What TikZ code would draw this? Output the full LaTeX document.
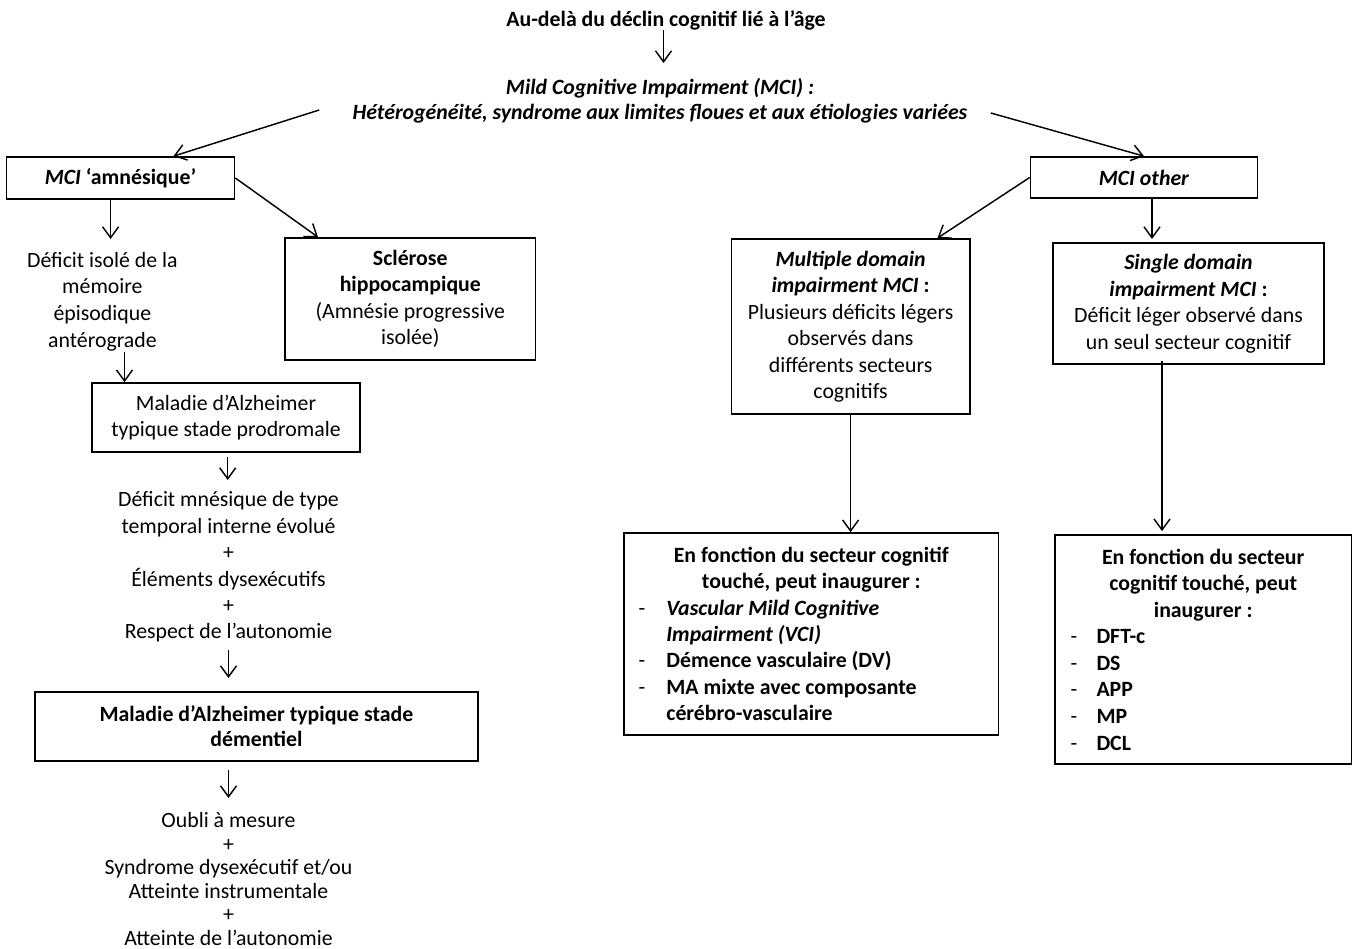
\documentclass[tikz,border=0pt]{standalone}
\usepackage{fontspec}
\setmainfont{Carlito}
\usetikzlibrary{arrows.meta,calc}
\newcommand{\vashead}[1]{\makebox[187.3pt][c]{#1}}
\newcommand{\vasitem}[1]{\makebox[187.3pt][l]{\hspace*{7.25pt}\makebox[13.95pt][l]{\mdseries -}#1}}
\newcommand{\vascont}[1]{\makebox[187.3pt][l]{\hspace*{21.2pt}#1}}
\newcommand{\sdlhead}[1]{\makebox[148.25pt][c]{#1}}
\newcommand{\sdlitem}[1]{\makebox[148.25pt][l]{\hspace*{7.75pt}\makebox[13pt][l]{\mdseries -}#1}}
\begin{document}
\begin{tikzpicture}[x=0.5pt,y=-0.5pt,
  txt/.style={font=\fontsize{10.9}{13.25}\selectfont, align=center, inner sep=0pt},
  box/.style={txt, draw, line width=0.85pt},
  arr/.style={line width=0.72pt, -{Straight Barb[length=5.5pt,width=8pt]}}]
\useasboundingbox (0,0) rectangle (1355,948);
\fill[white] (0,0) rectangle (1355,948);

% texts
\node[txt, font=\fontsize{10.9}{13.25}\selectfont\bfseries] (title) at (666,20) {Au-delà du déclin cognitif lié à l’âge};
\node[txt, font=\fontsize{10.9}{12.5}\selectfont\bfseries\itshape] (mci) at (660,100.5)
  {Mild Cognitive Impairment (MCI) :\\Hétérogénéité, syndrome aux limites floues et aux étiologies variées};

% boxes
\node[box, minimum width=114pt, minimum height=21pt] (amn) at (120.5,178) {\textbf{\textit{MCI} ‘amnésique’}};
\node[box, minimum width=113.5pt, minimum height=20.5pt] (other) at (1144,177.5) {\textbf{\textit{MCI other}}};
\node[box, minimum width=125.3pt, minimum height=61pt] (scl) at (410.3,299)
  {\textbf{Sclérose}\\\textbf{hippocampique}\\(Amnésie progressive\\isolée)};
\node[box, minimum width=119.25pt, minimum height=87.5pt] (mult) at (850.6,326.5)
  {\textbf{\textit{Multiple domain}}\\\textbf{\textit{impairment MCI} :}\\Plusieurs déficits légers\\observés dans\\différents secteurs\\cognitifs};
\node[box, minimum width=135.5pt, minimum height=60.5pt] (single) at (1188.5,303.5)
  {\textbf{\textit{Single domain}}\\\textbf{\textit{impairment MCI} :}\\Déficit léger observé dans\\un seul secteur cognitif};

\node[txt, font=\fontsize{10.9}{13.35}\selectfont] (def1) at (102.4,301.5)
  {Déficit isolé de la\\mémoire\\épisodique\\antérograde};
\node[box, minimum width=134pt, minimum height=34.5pt] (prod) at (226,417.5)
  {Maladie d’Alzheimer\\typique stade prodromale};
\node[txt, font=\fontsize{10.9}{13.2}\selectfont] (def2) at (228.5,567)
  {Déficit mnésique de type\\temporal interne évolué\\+\\Éléments dysexécutifs\\+\\Respect de l’autonomie};
\node[box, minimum width=221.5pt, minimum height=34.5pt, font=\fontsize{10.9}{12.5}\selectfont\bfseries] (dem) at (256.4,726.5)
  {Maladie d’Alzheimer typique stade\\démentiel};
\node[txt, font=\fontsize{10.9}{11.8}\selectfont] (def3) at (228.5,879)
  {Oubli à mesure\\+\\Syndrome dysexécutif et/ou\\Atteinte instrumentale\\+\\Atteinte de l’autonomie};

\node[box, minimum width=187.3pt, minimum height=101pt, font=\fontsize{10.9}{13.2}\selectfont\bfseries] (vas) at (811.3,634)
  {\vashead{En fonction du secteur cognitif}\\
   \vashead{touché, peut inaugurer :}\\
   \vasitem{\textit{Vascular Mild Cognitive}}\\
   \vascont{\textit{Impairment (VCI)}}\\
   \vasitem{Démence vasculaire (DV)}\\
   \vasitem{MA mixte avec composante}\\
   \vascont{cérébro-vasculaire}};
\node[box, minimum width=148.25pt, minimum height=114.5pt, font=\fontsize{10.9}{13.3}\selectfont\bfseries] (sdl) at (1203.25,649.5)
  {\sdlhead{En fonction du secteur}\\
   \sdlhead{cognitif touché, peut}\\
   \sdlhead{inaugurer :}\\
   \sdlitem{DFT-c}\\
   \sdlitem{DS}\\
   \sdlitem{APP}\\
   \sdlitem{MP}\\
   \sdlitem{DCL}};

% connector end points
\coordinate (t1) at (663.5,63);
\coordinate (e5) at (110.6,239);
\coordinate (s6) at (124.5,352);
\coordinate (s7) at (227.7,457); \coordinate (e7) at (227.7,480);
\coordinate (s8) at (228.5,650); \coordinate (e8) at (228.5,678);
\coordinate (s9) at (228.5,770); \coordinate (e9) at (228.5,798);
\coordinate (e11) at (1152,239);
\coordinate (s13) at (1162,361);

% connectors
\draw[arr] (title.south -| t1) -- (t1);
\draw[arr] ([shift={(-33,9.5)}]mci.west) -- ([xshift=26.5pt]amn.north);
\draw[arr] ([shift={(23,12.5)}]mci.east) -- (other.north);
\draw[arr] (amn.east) -- ([xshift=-46.15pt]scl.north);
\draw[arr] (amn.south -| e5) -- (e5);
\draw[arr] (s6) -- (prod.north -| s6);
\draw[arr] (s7) -- (e7);
\draw[arr] (s8) -- (e8);
\draw[arr] (s9) -- (e9);
\draw[arr] (other.west) -- ([xshift=43.4pt]mult.north);
\draw[arr] (other.south -| e11) -- (e11);
\draw[arr] (mult.south) -- (mult.south |- vas.north);
\draw[arr, shorten >=1.5pt] (s13) -- (s13 |- sdl.north);
\end{tikzpicture}
\end{document}
